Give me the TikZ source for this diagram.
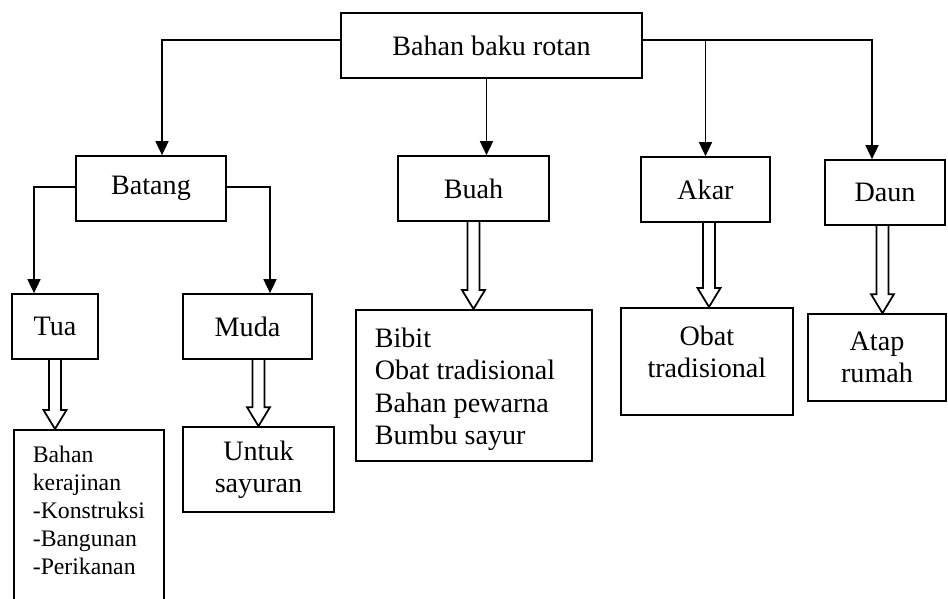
\documentclass[tikz,border=0pt]{standalone}
\usepackage{fontspec}
\setmainfont{Liberation Serif}
\usetikzlibrary{arrows.meta,positioning,calc}

% hollow block arrow: start point, target node
\newcommand{\bigarrow}[2]{%
  \draw[hollow] let \p1=#1, \p2=(#2.north) in
    (\x1-0.12cm,\y1) -- (\x1-0.12cm,\y2+0.38cm) -- (\x1-0.23cm,\y2+0.38cm)
    -- (\x1,\y2) -- (\x1+0.23cm,\y2+0.38cm) -- (\x1+0.12cm,\y2+0.38cm)
    -- (\x1+0.12cm,\y1);}

\begin{document}
\begin{tikzpicture}[x=0.02cm,y=-0.02cm,>={Triangle[width=0.26cm,length=0.28cm]},
  box/.style={draw,line width=1pt,inner sep=0pt,align=center,
    font=\fontsize{16}{18.4}\selectfont},
  link/.style={->,line width=1pt},
  hollow/.style={line width=1pt,line join=miter}]
  \useasboundingbox (0,0) rectangle (948,599);

  % top level
  \node[box,minimum width=6.02cm,minimum height=1.3cm] (root) at (491.5,45.5) {Bahan baku rotan};

  % parts of the plant
  \node[box,minimum width=3cm,minimum height=1.3cm] (batang) at (151,188.5) {Batang};
  \node[box,minimum width=3.02cm,minimum height=1.3cm] (buah) at (473.5,188.5) {Buah};
  \node[box,minimum width=2.58cm,minimum height=1.3cm] (akar) at (705.5,189.5) {Akar};
  \node[box,minimum width=2.4cm,minimum height=1.3cm] (daun) at (885,192.5) {Daun};

  % stem: old and young
  \node[box,minimum width=1.72cm,minimum height=1.3cm] (tua) at (55,326.5) {Tua};
  \node[box,minimum width=2.58cm,minimum height=1.3cm] (muda) at (247.5,326.5) {Muda};

  % uses
  \node[box,anchor=north west,inner ysep=0.32cm,
    font=\fontsize{13.5}{16}\selectfont] (kerajinan) at (13,429)
    {\parbox[c][3.4cm][t]{3cm}{\raggedright\leftskip=0.38cm
      Bahan\\kerajinan\\-Konstruksi\\-Bangunan\\-Perikanan}};
  \node[box,minimum width=3.02cm,minimum height=1.7cm] (sayuran) at (258.5,469.5) {Untuk\\sayuran};
  \node[box,anchor=north west,inner ysep=0.36cm] (bibit) at (355,309)
    {\parbox[c][2.3cm][t]{4.72cm}{\raggedright\leftskip=0.38cm
      Bibit\\Obat tradisional\\Bahan pewarna\\Bumbu sayur}};
  \node[box,anchor=north west,inner ysep=0.36cm] (obat) at (620,307)
    {\parbox[c][1.42cm][t]{3.44cm}{\centering Obat\\tradisional}};
  \node[box,minimum width=2.76cm,minimum height=1.74cm] (atap) at (877,357.5) {Atap\\rumah};

  % connectors from the top box
  \coordinate (rl) at ([yshift=0.11cm]root.west);
  \coordinate (rr) at ([yshift=0.11cm]root.east);
  \draw[link] (rl) -| ([xshift=0.22cm]batang.north);
  \draw[link] ([xshift=-0.1cm]root.south) -- ([xshift=-0.1cm]root.south |- buah.north);
  \draw[link] (rr) -| ([xshift=-0.26cm]daun.north);
  \draw[link] (rr -| akar.north) -- (akar.north);

  % connectors from Batang
  \draw[link] ([yshift=0.03cm]batang.west) -| ([xshift=-0.42cm]tua.north);
  \draw[link] ([yshift=0.03cm]batang.east) -| ([xshift=0.45cm]muda.north);

  % hollow arrows
  \bigarrow{(tua.south)}{kerajinan}
  \bigarrow{([xshift=0.22cm]muda.south)}{sayuran}
  \bigarrow{(buah.south)}{bibit}
  \bigarrow{([xshift=0.07cm]akar.south)}{obat}
  \bigarrow{([xshift=-0.05cm]daun.south)}{atap}

\end{tikzpicture}
\end{document}
